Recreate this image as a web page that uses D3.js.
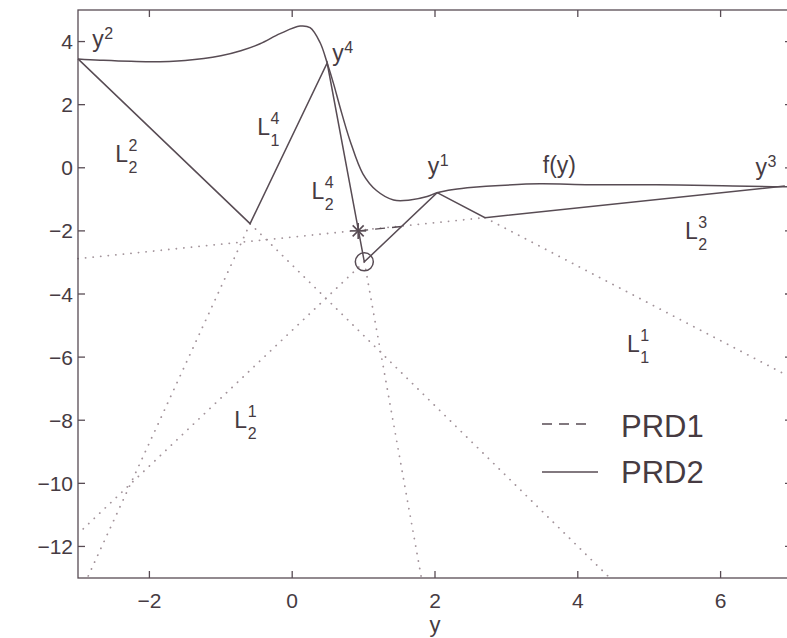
<!DOCTYPE html>
<html><head><meta charset="utf-8">
<script src="https://cdn.jsdelivr.net/npm/d3@7"></script>
<style>
html,body{margin:0;padding:0;background:#fff;overflow:hidden}
svg{display:block}
text{font-family:"Liberation Sans",Arial,Helvetica,sans-serif}
</style></head><body>
<svg id="chart" width="787" height="638"></svg>
<script>
// objective function f(y)
const fX = [-3.0, -2.69, -1.99, -1.5, -1.0, -0.72, -0.45, -0.17, 0.11, 0.25, 0.39, 0.49,
            0.58, 0.67, 0.81, 0.99, 1.18, 1.42, 1.65, 1.89, 2.03, 2.26, 2.54, 2.91,
            3.47, 4.17, 5.10, 6.03, 6.73, 7.0];
const fY = [3.45, 3.41, 3.36, 3.40, 3.55, 3.71, 3.93, 4.25, 4.49, 4.44, 3.97, 3.32,
            2.66, 1.92, 0.86, -0.19, -0.72, -1.02, -1.02, -0.91, -0.79, -0.69, -0.62, -0.56,
            -0.51, -0.54, -0.54, -0.57, -0.60, -0.60];

// PRD2 model: y2, kink, y4, PRD2 minimiser, y1, kink, y3
const prd2X = [-3.0, -0.59, 0.49, 1.01, 2.03, 2.70, 6.9];
const prd2Y = [3.45, -1.77, 3.32, -2.98, -0.79, -1.58, -0.58];

// PRD1 model piece leaving its minimiser
const prd1X = [0.924, 1.53];
const prd1Y = [-2.0, -1.86];

// minimisers
const starPt = [0.924, -2.0];   // PRD1
const circlePt = [1.01, -2.98]; // PRD2

// linearisations continued below the model (dotted)
const extX0 = [-0.59, -0.59, -3.0, 1.01, 1.01, 2.70];
const extY0 = [-1.77, -1.77, -2.88, -2.98, -2.98, -1.58];
const extX1 = [4.45, -2.87, 2.70, 1.81, -3.0, 7.0];
const extY1 = [-13, -13, -1.58, -13, -11.6, -6.66];

// axis ticks
const xTicks = [-2, 0, 2, 4, 6];
const yTicks = [-12, -10, -8, -6, -4, -2, 0, 2, 4];

// annotations: base letter, superscript, subscript, anchor (data units)
const labBase = ["y", "y", "y", "y", "L", "L", "L", "L", "L", "L", "f(y)"];
const labSup  = ["2", "4", "1", "3", "2", "4", "4", "3", "1", "1", ""];
const labSub  = ["",  "",  "",  "",  "2", "1", "2", "2", "1", "2", ""];
const labX    = [-2.80, 0.56, 1.90, 6.49, -2.48, -0.49, 0.27, 5.50, 4.69, -0.81, 3.51];
const labY    = [3.83, 3.38, -0.20, -0.23, 0.18, 1.04, -0.99, -2.26, -5.84, -8.25, -0.17];

// legend
const legendNames = ["PRD1", "PRD2"];

const ink = "#584c54", textInk = "#463b42", dotInk = "#a3949b";
const W = 787, H = 638;
const mLeft = 78, mRight = 792, mTop = 10, mBottom = 578;

const svg = d3.select("#chart");
svg.append("rect").attr("width", W).attr("height", H).attr("fill", "#fff");

const x = d3.scaleLinear().domain([-3, 7]).range([mLeft, mRight]);
const y = d3.scaleLinear().domain([-13, 5]).range([mBottom, mTop]);

const line = d3.line().x(d => x(d[0])).y(d => y(d[1]));
const curve = d3.line().x(d => x(d[0])).y(d => y(d[1])).curve(d3.curveCatmullRom.alpha(0.5));

const plot = svg.append("g");

// dotted extensions
extX0.forEach((v, i) => {
  plot.append("path")
    .attr("d", line([[extX0[i], extY0[i]], [extX1[i], extY1[i]]]))
    .attr("fill", "none").attr("stroke", dotInk)
    .attr("stroke-width", 1.8).attr("stroke-linecap", "round")
    .attr("stroke-dasharray", "0.1,7.5");
});

// f(y)
plot.append("path").attr("d", curve(fX.map((v, i) => [v, fY[i]])))
  .attr("fill", "none").attr("stroke", ink).attr("stroke-width", 1.5);

// PRD2 model
plot.append("path").attr("d", line(prd2X.map((v, i) => [v, prd2Y[i]])))
  .attr("fill", "none").attr("stroke", ink).attr("stroke-width", 1.5)
  .attr("stroke-linejoin", "miter");

// PRD1 model
plot.append("path").attr("d", line(prd1X.map((v, i) => [v, prd1Y[i]])))
  .attr("fill", "none").attr("stroke", ink).attr("stroke-width", 1.4)
  .attr("stroke-dasharray", "10,7");

// star marker
const sx = x(starPt[0]), sy = y(starPt[1]);
const star = plot.append("g").attr("stroke", ink).attr("stroke-width", 1.6);
[[-8, 0, 8, 0], [0, -8, 0, 8], [-5.5, -5.5, 5.5, 5.5], [-5.5, 5.5, 5.5, -5.5]].forEach(s => {
  star.append("line").attr("x1", sx + s[0]).attr("y1", sy + s[1])
    .attr("x2", sx + s[2]).attr("y2", sy + s[3]);
});

// circle marker
plot.append("circle").attr("cx", x(circlePt[0])).attr("cy", y(circlePt[1])).attr("r", 9)
  .attr("fill", "none").attr("stroke", ink).attr("stroke-width", 1.5);

// axes box with inward ticks
const axisG = svg.append("g").attr("stroke", ink).attr("stroke-width", 1.3).attr("fill", "none");
axisG.append("rect").attr("x", mLeft).attr("y", mTop).attr("width", mRight - mLeft).attr("height", mBottom - mTop);
const tl = 7;
xTicks.forEach(t => {
  axisG.append("line").attr("x1", x(t)).attr("x2", x(t)).attr("y1", mBottom).attr("y2", mBottom - tl);
  axisG.append("line").attr("x1", x(t)).attr("x2", x(t)).attr("y1", mTop).attr("y2", mTop + tl);
});
yTicks.forEach(t => {
  axisG.append("line").attr("x1", mLeft).attr("x2", mLeft + tl).attr("y1", y(t)).attr("y2", y(t));
  axisG.append("line").attr("x1", mRight).attr("x2", mRight - tl).attr("y1", y(t)).attr("y2", y(t));
});

const fmt = v => (v < 0 ? "\u2212" + Math.abs(v) : String(v));
svg.append("g").selectAll("text").data(xTicks).join("text")
  .attr("x", d => x(d)).attr("y", 608).attr("text-anchor", "middle")
  .attr("font-size", 21).attr("fill", textInk).text(fmt);
svg.append("g").selectAll("text").data(yTicks).join("text")
  .attr("x", mLeft - 5).attr("y", d => y(d) + 7.5).attr("text-anchor", "end")
  .attr("font-size", 21).attr("fill", textInk).text(fmt);

// x label
svg.append("text").attr("x", (mLeft + mRight) / 2).attr("y", 632).attr("text-anchor", "middle")
  .attr("font-size", 22).attr("fill", textInk).text("y");

// annotations with super/subscripts
labBase.forEach((b, i) => {
  const x0 = x(labX[i]), y0 = y(labY[i]);
  const t = svg.append("text").attr("x", x0).attr("y", y0)
    .attr("font-size", 23).attr("fill", textInk).text(b);
  const w = t.node().getComputedTextLength();
  const isL = b === "L";
  if (labSup[i]) svg.append("text").attr("x", x0 + w + 0.5).attr("y", y0 + (isL ? -11 : -8))
    .attr("font-size", 16).attr("fill", textInk).text(labSup[i]);
  if (labSub[i]) svg.append("text").attr("x", x0 + w + 0.5).attr("y", y0 + 11)
    .attr("font-size", 16).attr("fill", textInk).text(labSub[i]);
});

// legend
const lg = svg.append("g");
lg.append("line").attr("x1", 542).attr("x2", 592).attr("y1", 424).attr("y2", 424)
  .attr("stroke", ink).attr("stroke-width", 1.4).attr("stroke-dasharray", "10,7");
lg.append("line").attr("x1", 542).attr("x2", 598).attr("y1", 472).attr("y2", 472)
  .attr("stroke", ink).attr("stroke-width", 1.4);
lg.selectAll("text").data(legendNames).join("text")
  .attr("x", 621).attr("y", (d, i) => 437 + i * 46)
  .attr("font-size", 31).attr("fill", textInk).text(d => d);
</script>
</body></html>
